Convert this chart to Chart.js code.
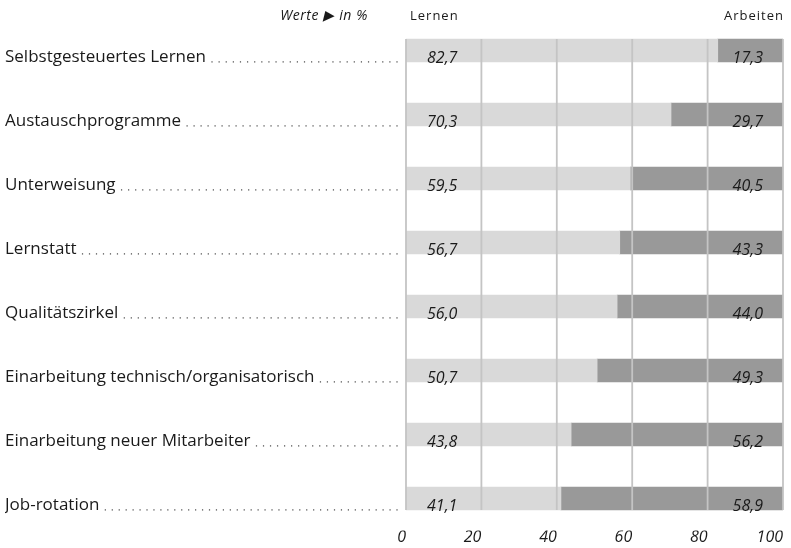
<!DOCTYPE html>
<html><head><meta charset="utf-8">
<script src="https://cdn.jsdelivr.net/npm/chart.js@4"></script>
<style>html,body{margin:0;padding:0;background:#fff}</style>
</head><body>
<canvas id="c" width="791" height="548"></canvas>
<script>
const categories = ['Selbstgesteuertes Lernen','Austauschprogramme','Unterweisung','Lernstatt','Qualitätszirkel','Einarbeitung technisch/organisatorisch','Einarbeitung neuer Mitarbeiter','Job-rotation'];
const lernen = [82.7, 70.3, 59.5, 56.7, 56.0, 50.7, 43.8, 41.1];
const arbeiten = [17.3, 29.7, 40.5, 43.3, 44.0, 49.3, 56.2, 58.9];
const xTicks = [0, 20, 40, 60, 80, 100];
const seriesNames = ['Lernen', 'Arbeiten'];
const unitNote = 'Werte \u25B6 in %';

const FONT = '"Open Sans", "Noto Sans", sans-serif';
const fmt = v => v.toFixed(1).replace('.', ',');

const decor = {
  id: 'decor',
  afterDatasetsDraw(chart) {
    const ctx = chart.ctx;
    const xs = chart.scales.x;
    const m0 = chart.getDatasetMeta(0), m1 = chart.getDatasetMeta(1);
    const first = m0.data[0], last = m0.data[m0.data.length - 1];
    const top = first.y - first.height / 2, bottom = last.y + last.height / 2;
    ctx.save();
    ctx.strokeStyle = '#c4c4c4';
    ctx.lineWidth = 1.8;
    xTicks.forEach(v => {
      const px = xs.getPixelForValue(v);
      ctx.beginPath(); ctx.moveTo(px, top); ctx.lineTo(px, bottom); ctx.stroke();
    });
    ctx.font = 'italic 16px ' + FONT;
    ctx.fillStyle = '#1a1a1a';
    ctx.textBaseline = 'alphabetic';
    m0.data.forEach((b, i) => {
      ctx.textAlign = 'left';
      ctx.fillText(fmt(lernen[i]), b.base + 21, b.y + b.height / 2 + 0.5);
    });
    m1.data.forEach((b, i) => {
      ctx.textAlign = 'right';
      ctx.fillText(fmt(arbeiten[i]), b.x - 20, b.y + b.height / 2 + 0.5);
    });
    ctx.restore();
  },
  afterDraw(chart) {
    const ctx = chart.ctx;
    const ys = chart.scales.y;
    const area = chart.chartArea;
    ctx.save();
    // dotted leaders
    ctx.font = '17px ' + FONT;
    ctx.fillStyle = '#444';
    categories.forEach((c, i) => {
      const w = ctx.measureText(c).width;
      const el = chart.getDatasetMeta(0).data[i];
      const yb = el.y + el.height / 2 + 0.5;
      const startX = ys.left + w + 6;
      const endX = area.left - 9;
      const n = Math.max(1, Math.round((endX - startX) / 7));
      const step = (endX - startX) / n;
      for (let k = 0; k <= n; k++) {
        const x = startX + k * step;
        ctx.fillRect(x - 0.6, yb - 1.2, 1.2, 1.2);
      }
    });
    // header
    ctx.fillStyle = '#1a1a1a';
    ctx.textBaseline = 'alphabetic';
    ctx.font = '13px ' + FONT;
    ctx.letterSpacing = '1px';
    ctx.textAlign = 'left';
    ctx.fillText(seriesNames[0], area.left + 4, 20);
    ctx.textAlign = 'right';
    ctx.fillText(seriesNames[1], area.right + 1, 20);
    ctx.letterSpacing = '0.6px';
    ctx.font = 'italic 14px ' + FONT;
    ctx.fillText(unitNote, 368, 20);
    ctx.restore();
  }
};

new Chart(document.getElementById('c'), {
  type: 'bar',
  data: {
    labels: categories,
    datasets: [
      { label: seriesNames[0], data: lernen, backgroundColor: '#d9d9d9', barThickness: 23, borderWidth: 0 },
      { label: seriesNames[1], data: arbeiten, backgroundColor: '#999999', barThickness: 23, borderWidth: 0 }
    ]
  },
  options: {
    indexAxis: 'y',
    responsive: false,
    animation: false,
    devicePixelRatio: 1,
    layout: { padding: { left: 5, right: 8, top: 18.5, bottom: 0 } },
    plugins: { legend: { display: false }, tooltip: { enabled: false } },
    scales: {
      x: {
        type: 'linear', stacked: true, min: 0, max: 100, position: 'bottom',
        afterBuildTicks: s => { s.ticks = xTicks.map(v => ({ value: v })); },
        afterFit: s => { s.height = 17.5; },
        grid: { display: false, drawTicks: false },
        border: { display: false },
        ticks: { align: 'end', padding: -3, color: '#1a1a1a', font: { family: FONT, size: 16, style: 'italic' } }
      },
      y: {
        type: 'category', stacked: true,
        afterFit: s => { s.width = 401; },
        grid: { display: false, drawTicks: false },
        border: { display: false },
        ticks: { crossAlign: 'far', labelOffset: 6.2, color: '#1a1a1a', font: { family: FONT, size: 17 } }
      }
    }
  },
  plugins: [decor]
});
</script>
</body></html>
